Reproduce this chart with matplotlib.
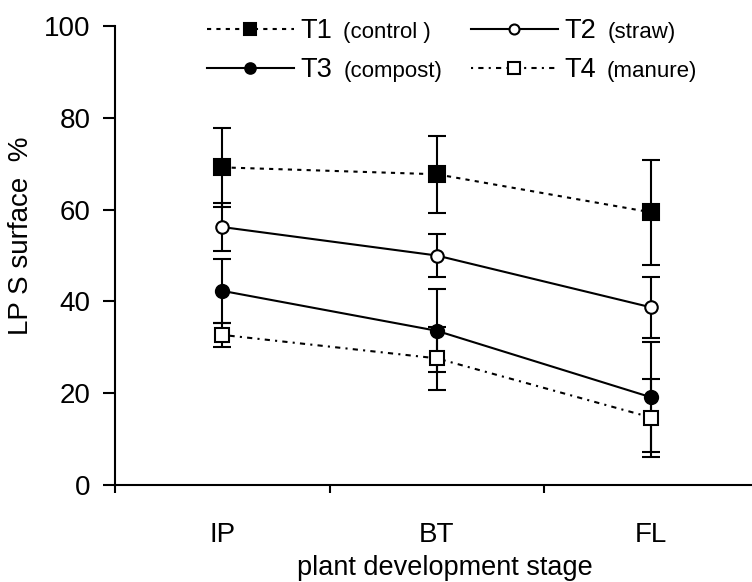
import matplotlib
matplotlib.use("Agg")
import matplotlib.pyplot as plt

plt.rcParams["font.family"] = ["Liberation Sans", "DejaVu Sans"]

# stages on the x axis (categories sit between the boundary ticks)
stages = ["IP", "BT", "FL"]
stage_pos = [0.5, 1.5, 2.5]
boundaries = [0, 1, 2, 3]

# LPS surface %, mean and error bar half-length
t1_mean = [69.2, 67.7, 59.4]
t1_err = [8.6, 8.4, 11.5]
t2_mean = [56.2, 50.0, 38.7]
t2_err = [5.3, 4.7, 6.7]
t3_mean = [42.3, 33.6, 19.1]
t3_err = [7.0, 9.0, 12.0]
t4_mean = [32.7, 27.6, 14.7]
t4_err = [2.7, 6.8, 8.5]

names = ["T1", "T2", "T3", "T4"]
notes = ["(control )", "(straw)", "(compost)", "(manure)"]

W, H = 752, 582
fig = plt.figure(figsize=(W / 100, H / 100), dpi=100)
ax = fig.add_axes([115 / W, 97 / H, 3 * 214.5 / W, 459 / H])

series = [
    (t1_mean, t1_err, dict(ls=(0, (2, 2.5)), marker="s", ms=11, mfc="k")),
    (t2_mean, t2_err, dict(ls="-", marker="o", ms=9, mfc="white")),
    (t3_mean, t3_err, dict(ls="-", marker="o", ms=9.5, mfc="k")),
    (t4_mean, t4_err, dict(ls=(0, (1, 2.5, 2.5, 2.5)), marker="s", ms=10, mfc="white")),
]

handles = []
for mean, err, style in series:
    cont = ax.errorbar(stage_pos, mean, yerr=err, color="k", lw=1.5, mec="k", mew=1.5,
                       ecolor="k", elinewidth=1.5, capsize=6.5, capthick=1.5, **style)
    handles.append(cont.lines[0])

ax.set_xlim(0, 3)
ax.set_ylim(0, 100)
ax.spines["top"].set_visible(False)
ax.spines["right"].set_visible(False)
for s in ("left", "bottom"):
    ax.spines[s].set_linewidth(1.5)

ax.set_yticks(range(0, 101, 20))
ax.tick_params(axis="y", length=8.6, width=1.5, pad=9, labelsize=20)
ax.set_xticks(boundaries)
ax.set_xticklabels([])
ax.tick_params(axis="x", which="major", length=6, width=1.5)
ax.set_xticks(stage_pos, minor=True)
ax.set_xticklabels(stages, minor=True)
ax.tick_params(axis="x", which="minor", length=0, pad=27, labelsize=20)

ax.set_xlabel("plant development stage", fontsize=19.5)
ax.xaxis.set_label_coords(0.513, -0.152)
ax.set_ylabel("LP S surface  %", fontsize=20)
ax.yaxis.set_label_coords(-0.126, 0.542)

# legend: 2 x 2, big "Tn" then a smaller note in brackets
rows = [31, 70]
cols = [207, 471]
slots = [(0, 0), (0, 1), (1, 0), (1, 1)]
legs = []
for h, name, (r, c) in zip(handles, names, slots):
    leg = fig.legend([h], [name], loc="center left",
                     bbox_to_anchor=(cols[c] / W, 1 - rows[r] / H),
                     frameon=False, fontsize=19.5, handlelength=3.2, handletextpad=0.25,
                     borderpad=0, borderaxespad=0, markerscale=0.8)
    legs.append(leg)

fig.canvas.draw()
renderer = fig.canvas.get_renderer()
for leg, note in zip(legs, notes):
    bb = leg.get_texts()[0].get_window_extent(renderer)
    fig.text((bb.x1 + 11) / W, (bb.y0 + 1) / H, note, fontsize=16, ha="left", va="bottom")

fig.savefig("out.png", dpi=100)
